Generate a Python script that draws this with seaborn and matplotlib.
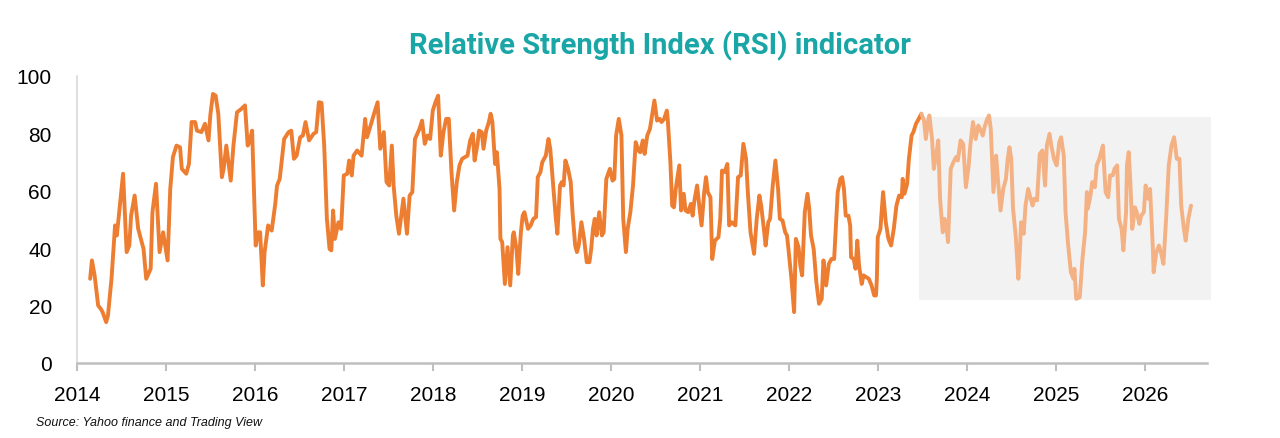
import pandas as pd
import seaborn as sns
import matplotlib.pyplot as plt

# RSI readings, solid part (history)
years_hist = [
    2014.15, 2014.17, 2014.20, 2014.24, 2014.27, 2014.29, 2014.33, 2014.35, 2014.39, 2014.43,
    2014.45, 2014.48, 2014.52, 2014.56, 2014.59, 2014.61, 2014.65, 2014.69, 2014.75, 2014.78,
    2014.83, 2014.85, 2014.89, 2014.93, 2014.97, 2015.02, 2015.05, 2015.08, 2015.12, 2015.16,
    2015.18, 2015.23, 2015.26, 2015.29, 2015.33, 2015.35, 2015.40, 2015.44, 2015.48, 2015.50,
    2015.53, 2015.56, 2015.59, 2015.63, 2015.65, 2015.68, 2015.73, 2015.76, 2015.80, 2015.85,
    2015.89, 2015.92, 2015.94, 2015.97, 2016.01, 2016.04, 2016.06, 2016.09, 2016.11, 2016.15,
    2016.19, 2016.23, 2016.25, 2016.28, 2016.33, 2016.38, 2016.41, 2016.44, 2016.47, 2016.51,
    2016.54, 2016.57, 2016.61, 2016.66, 2016.69, 2016.72, 2016.75, 2016.78, 2016.81, 2016.84,
    2016.86, 2016.88, 2016.90, 2016.94, 2016.97, 2017.00, 2017.04, 2017.06, 2017.09, 2017.11,
    2017.15, 2017.20, 2017.24, 2017.26, 2017.29, 2017.34, 2017.38, 2017.41, 2017.45, 2017.48,
    2017.51, 2017.54, 2017.56, 2017.59, 2017.62, 2017.67, 2017.71, 2017.74, 2017.77, 2017.80,
    2017.85, 2017.88, 2017.91, 2017.94, 2017.97, 2018.00, 2018.03, 2018.06, 2018.09, 2018.12,
    2018.15, 2018.18, 2018.21, 2018.24, 2018.27, 2018.30, 2018.33, 2018.39, 2018.42, 2018.45,
    2018.47, 2018.50, 2018.52, 2018.55, 2018.57, 2018.60, 2018.63, 2018.65, 2018.67, 2018.70,
    2018.72, 2018.75, 2018.76, 2018.78, 2018.81, 2018.84, 2018.87, 2018.90, 2018.91, 2018.94,
    2018.96, 2018.99, 2019.01, 2019.03, 2019.07, 2019.10, 2019.13, 2019.16, 2019.18, 2019.21,
    2019.23, 2019.27, 2019.30, 2019.32, 2019.35, 2019.38, 2019.40, 2019.43, 2019.45, 2019.47,
    2019.49, 2019.52, 2019.55, 2019.57, 2019.60, 2019.62, 2019.64, 2019.67, 2019.70, 2019.73,
    2019.76, 2019.78, 2019.80, 2019.82, 2019.84, 2019.87, 2019.90, 2019.92, 2019.95, 2019.99,
    2020.02, 2020.04, 2020.06, 2020.09, 2020.12, 2020.14, 2020.17, 2020.19, 2020.22, 2020.25,
    2020.28, 2020.31, 2020.33, 2020.36, 2020.38, 2020.41, 2020.44, 2020.47, 2020.49, 2020.52,
    2020.55, 2020.57, 2020.60, 2020.63, 2020.64, 2020.67, 2020.69, 2020.71, 2020.73, 2020.77,
    2020.79, 2020.82, 2020.84, 2020.87, 2020.90, 2020.92, 2020.94, 2020.97, 2020.99, 2021.02,
    2021.05, 2021.07, 2021.09, 2021.12, 2021.14, 2021.17, 2021.21, 2021.23, 2021.25, 2021.28,
    2021.31, 2021.33, 2021.36, 2021.38, 2021.40, 2021.43, 2021.46, 2021.49, 2021.52, 2021.54,
    2021.57, 2021.61, 2021.64, 2021.67, 2021.69, 2021.72, 2021.74, 2021.77, 2021.79, 2021.82,
    2021.85, 2021.88, 2021.90, 2021.93, 2021.96, 2021.98, 2022.00, 2022.03, 2022.06, 2022.08,
    2022.11, 2022.13, 2022.15, 2022.18, 2022.21, 2022.23, 2022.25, 2022.28, 2022.31, 2022.34,
    2022.37, 2022.39, 2022.42, 2022.45, 2022.48, 2022.51, 2022.53, 2022.55, 2022.58, 2022.60,
    2022.62, 2022.64, 2022.67, 2022.69, 2022.70, 2022.73, 2022.75, 2022.77, 2022.79, 2022.82,
    2022.84, 2022.87, 2022.90, 2022.93, 2022.96, 2022.98, 2022.99, 2023.00, 2023.03, 2023.06,
    2023.09, 2023.12, 2023.15, 2023.18, 2023.21, 2023.24, 2023.27, 2023.28, 2023.30, 2023.33,
    2023.35, 2023.38, 2023.40, 2023.43, 2023.46, 2023.49,
]
rsi_hist = [
    29.3, 35.7, 30.5, 20.0, 18.8, 17.7, 14.2, 16.5, 29.3, 47.9,
    44.4, 53.7, 65.9, 38.6, 40.9, 51.3, 58.3, 46.7, 39.7, 29.3,
    32.8, 52.5, 62.4, 38.6, 45.5, 35.7, 60.6, 71.7, 75.7, 75.1,
    67.6, 65.9, 69.3, 83.9, 83.9, 80.9, 80.4, 83.3, 77.5, 86.2,
    93.7, 93.1, 86.8, 64.7, 67.6, 75.7, 63.5, 75.7, 87.3, 88.5,
    89.7, 75.7, 76.9, 80.9, 40.9, 45.5, 45.5, 27.0, 38.6, 47.9,
    46.1, 55.4, 61.8, 64.1, 78.0, 80.4, 80.9, 71.1, 72.2, 78.6,
    79.2, 83.9, 77.5, 79.8, 80.4, 90.8, 90.6, 75.7, 50.2, 39.7,
    39.2, 53.1, 43.2, 49.0, 46.7, 65.3, 65.9, 70.5, 65.3, 72.2,
    74.0, 72.2, 85.0, 78.6, 81.5, 86.8, 90.8, 74.6, 80.4, 63.0,
    61.8, 75.7, 61.8, 51.3, 45.0, 57.2, 45.0, 58.3, 59.5, 78.0,
    81.5, 84.4, 76.3, 79.2, 78.0, 87.9, 90.8, 93.1, 72.2, 80.4,
    85.0, 85.0, 66.5, 53.1, 63.0, 68.8, 71.1, 72.2, 77.5, 79.8,
    70.5, 75.7, 80.9, 80.4, 74.6, 80.9, 83.9, 86.8, 83.9, 69.3,
    73.4, 60.6, 43.2, 42.1, 27.5, 40.3, 27.0, 44.4, 45.5, 39.7,
    31.0, 45.5, 51.3, 52.5, 46.7, 47.9, 50.2, 50.8, 64.7, 66.5,
    69.9, 72.2, 78.0, 74.6, 63.0, 51.3, 45.0, 61.8, 63.0, 61.8,
    70.5, 67.6, 63.0, 52.5, 40.9, 38.6, 40.9, 49.0, 43.2, 35.1,
    35.1, 39.7, 46.7, 50.2, 44.4, 52.5, 44.4, 45.5, 64.1, 67.6,
    63.5, 64.1, 79.2, 85.0, 79.2, 50.2, 38.6, 46.7, 52.5, 61.8,
    76.9, 74.0, 73.4, 77.5, 72.8, 79.2, 81.5, 87.3, 91.4, 84.4,
    85.0, 83.9, 85.0, 87.9, 85.0, 69.9, 54.8, 54.2, 60.6, 68.8,
    53.1, 58.9, 53.1, 52.5, 55.4, 51.3, 56.6, 61.8, 56.0, 47.9,
    59.5, 64.7, 59.5, 57.7, 36.2, 42.6, 43.8, 50.2, 67.0, 66.5,
    69.3, 47.9, 49.0, 48.4, 47.9, 64.7, 65.3, 76.3, 71.1, 59.5,
    45.5, 38.0, 50.2, 58.3, 54.8, 46.7, 40.9, 49.0, 50.2, 61.8,
    70.5, 60.6, 50.2, 49.6, 45.5, 44.4, 38.6, 29.3, 17.7, 43.2,
    40.3, 33.9, 30.5, 52.5, 58.9, 53.7, 44.4, 39.7, 28.1, 20.6,
    22.3, 35.7, 27.0, 34.5, 36.2, 36.2, 47.9, 59.5, 64.1, 64.7,
    60.6, 51.3, 51.3, 47.9, 36.8, 36.2, 32.8, 42.6, 33.9, 27.5,
    30.5, 29.9, 29.3, 27.0, 23.5, 23.5, 29.3, 43.8, 46.7, 59.5,
    49.0, 43.2, 40.9, 46.7, 54.8, 58.3, 57.7, 64.1, 58.9, 62.4,
    71.1, 79.2, 80.4, 83.3, 85.0, 86.8,
]

# RSI readings, faded part
years_fade = [
    2023.49, 2023.52, 2023.54, 2023.57, 2023.58, 2023.61, 2023.63, 2023.65, 2023.68, 2023.70,
    2023.73, 2023.75, 2023.77, 2023.79, 2023.82, 2023.85, 2023.88, 2023.90, 2023.93, 2023.96,
    2023.99, 2024.02, 2024.04, 2024.07, 2024.10, 2024.13, 2024.15, 2024.18, 2024.20, 2024.23,
    2024.25, 2024.27, 2024.30, 2024.33, 2024.35, 2024.38, 2024.41, 2024.44, 2024.46, 2024.48,
    2024.50, 2024.52, 2024.55, 2024.58, 2024.60, 2024.61, 2024.64, 2024.66, 2024.69, 2024.74,
    2024.76, 2024.79, 2024.82, 2024.85, 2024.88, 2024.90, 2024.93, 2024.95, 2024.98, 2025.01,
    2025.04, 2025.06, 2025.09, 2025.11, 2025.14, 2025.17, 2025.20, 2025.21, 2025.23, 2025.27,
    2025.30, 2025.33, 2025.35, 2025.36, 2025.39, 2025.41, 2025.44, 2025.46, 2025.49, 2025.53,
    2025.56, 2025.59, 2025.61, 2025.64, 2025.66, 2025.69, 2025.71, 2025.74, 2025.76, 2025.79,
    2025.80, 2025.82, 2025.84, 2025.86, 2025.89, 2025.91, 2025.94, 2025.96, 2025.99, 2026.01,
    2026.04, 2026.06, 2026.09, 2026.10, 2026.13, 2026.16, 2026.19, 2026.21, 2026.24, 2026.27,
    2026.30, 2026.33, 2026.36, 2026.39, 2026.41, 2026.44, 2026.46, 2026.49, 2026.52,
]
rsi_fade = [
    86.8, 84.4, 78.0, 85.0, 86.2, 78.0, 67.6, 71.1, 77.5, 57.2,
    45.5, 50.2, 47.9, 42.1, 67.6, 69.9, 71.7, 70.5, 77.5, 76.3,
    61.2, 68.2, 75.7, 83.9, 78.0, 82.7, 81.5, 79.2, 82.1, 85.0,
    86.2, 81.5, 59.5, 72.2, 64.1, 53.1, 60.6, 64.1, 71.1, 75.1,
    71.1, 53.7, 44.4, 29.3, 40.9, 49.0, 45.0, 54.8, 60.6, 54.8,
    57.2, 56.6, 72.8, 74.0, 61.8, 75.7, 79.8, 75.7, 71.1, 68.8,
    76.9, 78.6, 72.2, 52.5, 40.9, 31.6, 29.3, 32.8, 22.3, 22.9,
    36.2, 45.5, 59.5, 53.7, 58.3, 63.0, 61.2, 68.8, 71.1, 75.7,
    59.5, 57.7, 65.3, 65.3, 67.6, 68.8, 50.2, 46.7, 39.2, 52.5,
    68.8, 73.4, 61.8, 46.7, 54.2, 52.5, 48.4, 51.3, 52.5, 61.8,
    57.2, 60.6, 40.9, 31.6, 38.6, 40.9, 37.4, 34.5, 50.2, 68.8,
    75.7, 78.6, 71.1, 71.1, 54.8, 46.7, 42.6, 50.2, 54.8,
]

# shaded band behind the faded part
band_years = [2023.46, 2026.75]
band_low, band_high = 22, 85.7

year_ticks = list(range(2014, 2027))
rsi_ticks = [0, 20, 40, 60, 80, 100]

hist = pd.DataFrame({"year": years_hist, "rsi": rsi_hist})
fade = pd.DataFrame({"year": years_fade, "rsi": rsi_fade})

sns.set_theme(style="white")
plt.rcParams["font.family"] = ["Liberation Sans", "DejaVu Sans"]

fig, ax = plt.subplots(figsize=(12.8, 4.39), dpi=100)
fig.subplots_adjust(left=0.060, right=0.943, bottom=0.171, top=0.825)

ax.fill_between(band_years, band_low, band_high, color="#f2f2f2", lw=0, zorder=0, clip_on=False)
sns.lineplot(data=hist, x="year", y="rsi", ax=ax, color="#ed7d31", lw=2.8, sort=False)
sns.lineplot(data=fade, x="year", y="rsi", ax=ax, color="#f4b183", lw=2.8, sort=False)

ax.set_xlim(2014, 2026.7)
ax.set_ylim(0, 100)
ax.set_xticks(year_ticks)
ax.set_yticks(rsi_ticks)
ax.set_xticklabels([str(y) for y in year_ticks])
ax.set_xlabel("")
ax.set_ylabel("")
ax.tick_params(axis="x", bottom=True, length=6, width=1.5, color="#bfbfbf",
               labelsize=15, labelcolor="black", pad=10)
ax.tick_params(axis="y", left=False, labelsize=15, labelcolor="black", pad=12)

for side in ["top", "right"]:
    ax.spines[side].set_visible(False)
ax.spines["left"].set_color("#d9d9d9")
ax.spines["left"].set_linewidth(1.2)
ax.spines["bottom"].set_color("#bfbfbf")
ax.spines["bottom"].set_linewidth(1.8)

fig.text(0.516, 0.895, "Relative Strength Index (RSI) indicator", ha="center", va="center",
         fontsize=21, fontweight="bold", color="#1aa6a6", family=["Roboto", "DejaVu Sans"])
fig.text(0.028, 0.036, "Source: Yahoo finance and Trading View", ha="left", va="center",
         fontsize=9, style="italic", color="#111111")

fig.savefig("out.png", dpi=100)
